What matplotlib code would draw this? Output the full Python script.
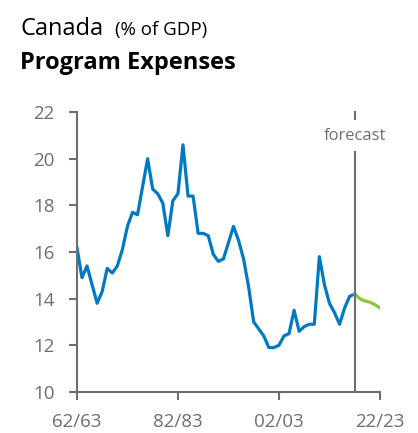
import matplotlib
matplotlib.use("Agg")
import matplotlib.pyplot as plt

# ── Data (fiscal year start, % of GDP) ─────────────────────────────────────
years_hist = list(range(1962, 2018))
program_exp = [16.2, 14.9, 15.4, 14.6, 13.8, 14.3, 15.3, 15.1, 15.4, 16.1,
               17.1, 17.7, 17.6, 18.8, 20.0, 18.7, 18.5, 18.1, 16.7, 18.2,
               18.5, 20.6, 18.4, 18.4, 16.8, 16.8, 16.7, 15.9, 15.6, 15.7,
               16.4, 17.1, 16.5, 15.7, 14.5, 13.0, 12.7, 12.4, 11.9, 11.9,
               12.0, 12.4, 12.5, 13.5, 12.6, 12.8, 12.9, 12.9, 15.8, 14.6,
               13.8, 13.4, 12.9, 13.6, 14.1, 14.2]
years_fc = list(range(2017, 2023))
forecast = [14.2, 14.0, 13.9, 13.85, 13.74, 13.6]

tick_years = [1962, 1982, 2002, 2022]
tick_labels = ["62/63", "82/83", "02/03", "22/23"]
forecast_year = 2017

GRAY = "#6e6e6e"
BLUE = "#0079c1"
GREEN = "#8cc63f"

plt.rcParams["font.family"] = ["Open Sans", "DejaVu Sans"]

fig = plt.figure(figsize=(4.18, 4.33), dpi=100)
ax = fig.add_axes([0.184, 0.095, 0.725, 0.646])

ax.plot(years_hist, program_exp, color=BLUE, linewidth=2.3, solid_joinstyle="round")
ax.plot(years_fc, forecast, color=GREEN, linewidth=2.3, solid_joinstyle="round")

# forecast marker line, broken around the label
ax.plot([forecast_year, forecast_year], [10, 20.28], color=GRAY, linewidth=1.5,
        clip_on=False)
ax.plot([forecast_year, forecast_year], [21.72, 22.0], color=GRAY, linewidth=1.5,
        clip_on=False)
ax.text(forecast_year, 20.99, "forecast", color=GRAY, fontsize=12,
        ha="center", va="center")

ax.set_xlim(1962, 2022)
ax.set_ylim(10, 22)
ax.set_xticks(tick_years)
ax.set_xticklabels(tick_labels)
ax.set_yticks(range(10, 23, 2))

for side in ("top", "right"):
    ax.spines[side].set_visible(False)
for side in ("left", "bottom"):
    ax.spines[side].set_color(GRAY)
    ax.spines[side].set_linewidth(1.5)
ax.tick_params(colors=GRAY, labelcolor=GRAY, labelsize=13.5, width=1.5,
               length=6, direction="out")
ax.tick_params(axis="x", pad=9)
ax.tick_params(axis="y", pad=10)

fig.text(0.048, 0.919, "Canada", fontsize=17, color="black", va="baseline")
fig.text(0.275, 0.919, "(% of GDP)", fontsize=13.5, color="black", va="baseline")
fig.text(0.048, 0.840, "Program Expenses", fontsize=17, fontweight="bold",
         color="black", va="baseline")

fig.savefig("out.png", dpi=100)
